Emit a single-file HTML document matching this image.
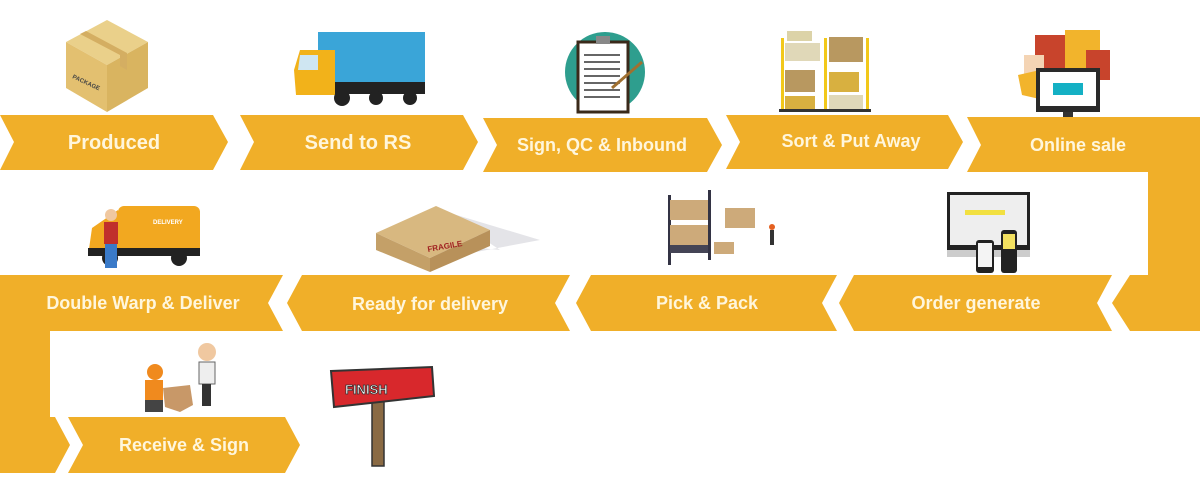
<!DOCTYPE html>
<html><head><meta charset="utf-8"><style>
html,body{margin:0;padding:0;background:#fff;width:1200px;height:481px;overflow:hidden}
svg{display:block}
text{font-family:"Liberation Sans",sans-serif;font-weight:bold;fill:#FFF6DC}
</style></head><body>
<svg width="1200" height="481" viewBox="0 0 1200 481" xmlns="http://www.w3.org/2000/svg">
<g fill="#F0AF29">
<polygon points="0,115 213,115 228,142 213,170 0,170 14,142"/>
<polygon points="240,115 463,115 478,142 463,170 240,170 254,142"/>
<polygon points="483,118 707,118 722,145 707,172 483,172 497,145"/>
<polygon points="726,115 948,115 963,142 948,169 726,169 740,142"/>
<polygon points="967,117 1200,117 1200,331 1130,331 1112,303 1130,275 1148,275 1148,172 967,172 981,145"/>
<polygon points="854,275 1112,275 1097,303 1112,331 854,331 839,303"/>
<polygon points="591,275 837,275 822,303 837,331 591,331 576,303"/>
<polygon points="302,275 570,275 555,303 570,331 302,331 287,303"/>
<polygon points="0,275 283,275 268,303 283,331 50,331 50,417 55,417 70,445 55,473 0,473"/>
<polygon points="68,417 285,417 300,445 285,473 68,473 83,445"/>
</g>
<text x="114" y="149" font-size="20" text-anchor="middle">Produced</text>
<text x="358" y="149" font-size="20" text-anchor="middle">Send to RS</text>
<text x="602" y="151" font-size="18" text-anchor="middle">Sign, QC &amp; Inbound</text>
<text x="851" y="147" font-size="18" text-anchor="middle">Sort &amp; Put Away</text>
<text x="1078" y="151" font-size="18" text-anchor="middle">Online sale</text>
<text x="976" y="309" font-size="18" text-anchor="middle">Order generate</text>
<text x="707" y="309" font-size="18" text-anchor="middle">Pick &amp; Pack</text>
<text x="430" y="310" font-size="18" text-anchor="middle">Ready for delivery</text>
<text x="143" y="309" font-size="18" text-anchor="middle">Double Warp &amp; Deliver</text>
<text x="184" y="451" font-size="18" text-anchor="middle">Receive &amp; Sign</text>

<polygon points="107,20 148,42 107,65 66,42" fill="#EAD08A"/>
<polygon points="66,42 107,65 107,112 66,88" fill="#E3C070"/>
<polygon points="107,65 148,42 148,88 107,112" fill="#D9B460"/>
<polygon points="86,31 127,53 127,70 120,66 120,55 80,34" fill="#D4AE62"/>
<text x="72" y="78" font-size="6" style="fill:#444" transform="rotate(25 72 78)">PACKAGE</text>
<rect x="318" y="32" width="107" height="52" fill="#3AA5D8"/>
<rect x="318" y="82" width="107" height="12" fill="#222"/>
<polygon points="300,50 335,50 335,95 296,95 294,70" fill="#F2B21A"/>
<polygon points="300,55 318,55 318,70 298,70" fill="#CFE6F2"/>
<circle cx="342" cy="98" r="8" fill="#222"/><circle cx="376" cy="98" r="7" fill="#222"/><circle cx="410" cy="98" r="7" fill="#222"/>
<circle cx="605" cy="72" r="40" fill="#2E9E8E"/>
<rect x="578" y="42" width="50" height="70" fill="#fff" stroke="#3a2a1a" stroke-width="3"/>
<rect x="596" y="36" width="14" height="8" fill="#888"/>
<g stroke="#333" stroke-width="1.5"><line x1="584" y1="55" x2="620" y2="55"/><line x1="584" y1="62" x2="620" y2="62"/><line x1="584" y1="69" x2="620" y2="69"/><line x1="584" y1="76" x2="620" y2="76"/><line x1="584" y1="83" x2="620" y2="83"/><line x1="584" y1="90" x2="620" y2="90"/><line x1="584" y1="97" x2="620" y2="97"/></g>
<line x1="612" y1="88" x2="642" y2="62" stroke="#A07030" stroke-width="3"/>
<rect x="781" y="38" width="3" height="72" fill="#F2C81A"/><rect x="824" y="38" width="3" height="72" fill="#F2C81A"/><rect x="866" y="38" width="3" height="72" fill="#F2C81A"/>
<rect x="787" y="31" width="25" height="10" fill="#DCD3A8"/><rect x="785" y="43" width="35" height="18" fill="#E0D8B8"/><rect x="829" y="37" width="34" height="25" fill="#B89860"/>
<rect x="785" y="70" width="30" height="22" fill="#B89860"/><rect x="829" y="72" width="30" height="20" fill="#D8B040"/>
<rect x="785" y="96" width="30" height="14" fill="#D8B040"/><rect x="829" y="95" width="34" height="15" fill="#E0D8B8"/>
<rect x="779" y="109" width="92" height="3" fill="#333"/>
<rect x="1035" y="35" width="37" height="40" fill="#C8442C"/><rect x="1065" y="30" width="35" height="40" fill="#F2B42C"/>
<rect x="1086" y="50" width="24" height="30" fill="#C8442C"/><rect x="1024" y="55" width="20" height="40" fill="#F4D4B4"/>
<polygon points="1018,75 1040,70 1044,100 1022,95" fill="#F2B42C"/>
<rect x="1036" y="68" width="64" height="44" fill="#2a2a2a"/><rect x="1040" y="72" width="56" height="34" fill="#fff"/>
<rect x="1053" y="83" width="30" height="12" fill="#14B0C4"/>
<rect x="1063" y="112" width="10" height="5" fill="#333"/>
<rect x="118" y="206" width="82" height="50" rx="6" fill="#F2A820"/>
<polygon points="92,228 118,210 118,256 88,256" fill="#F2A820"/>
<rect x="88" y="248" width="112" height="8" fill="#222"/>
<circle cx="110" cy="258" r="8" fill="#222"/><circle cx="179" cy="258" r="8" fill="#222"/>
<text x="153" y="224" font-size="6" style="fill:#fff">DELIVERY</text>
<circle cx="111" cy="215" r="6" fill="#F0C8A0"/><rect x="104" y="222" width="14" height="22" fill="#C0302C"/><rect x="105" y="244" width="12" height="24" fill="#3A7AC8"/>
<polygon points="440,210 540,240 460,255 400,240 500,250" fill="#E4E4E8"/>
<polygon points="376,233 436,206 490,230 430,258" fill="#D8B880"/>
<polygon points="376,233 430,258 430,272 376,250" fill="#C4A068"/>
<polygon points="430,258 490,230 490,246 430,272" fill="#B8915A"/>
<text x="428" y="252" font-size="8" style="fill:#A02020" transform="rotate(-10 428 252)">FRAGILE</text>
<rect x="668" y="195" width="3" height="70" fill="#334"/><rect x="708" y="190" width="3" height="70" fill="#334"/>
<rect x="670" y="200" width="38" height="20" fill="#CDAA7A"/><rect x="670" y="225" width="38" height="20" fill="#CDAA7A"/><rect x="670" y="245" width="38" height="8" fill="#445"/>
<rect x="725" y="208" width="30" height="20" fill="#CDAA7A"/><rect x="714" y="242" width="20" height="12" fill="#CDAA7A"/>
<rect x="770" y="230" width="4" height="15" fill="#333"/><circle cx="772" cy="227" r="3" fill="#E46020"/>
<rect x="947" y="192" width="83" height="58" fill="#222"/><rect x="950" y="195" width="77" height="50" fill="#EEE"/>
<rect x="965" y="210" width="40" height="5" fill="#F2E040"/>
<rect x="947" y="250" width="83" height="7" fill="#CCC"/>
<rect x="976" y="240" width="18" height="33" rx="3" fill="#222"/><rect x="1001" y="230" width="16" height="43" rx="3" fill="#222"/>
<rect x="978" y="243" width="14" height="24" fill="#F4F4F4"/><rect x="1003" y="234" width="12" height="15" fill="#F2E060"/>
<circle cx="207" cy="352" r="9" fill="#F0C8A0"/><rect x="199" y="362" width="16" height="22" fill="#EEE" stroke="#666"/><rect x="202" y="384" width="9" height="22" fill="#333"/>
<circle cx="155" cy="372" r="8" fill="#F08A1E"/><rect x="145" y="380" width="18" height="20" fill="#F08A1E"/><rect x="145" y="400" width="18" height="12" fill="#444"/>
<polygon points="163,388 190,385 193,405 180,412 165,407" fill="#C89868"/>
<rect x="372" y="372" width="12" height="94" fill="#8A6A44" stroke="#333" stroke-width="1.5"/>
<polygon points="331,371 432,367 434,396 334,407" fill="#D8282C" stroke="#333" stroke-width="2"/>
<text x="345" y="394" font-size="13" style="fill:#fff;stroke:#333;stroke-width:0.8">FINISH</text>
</svg>
</body></html>
